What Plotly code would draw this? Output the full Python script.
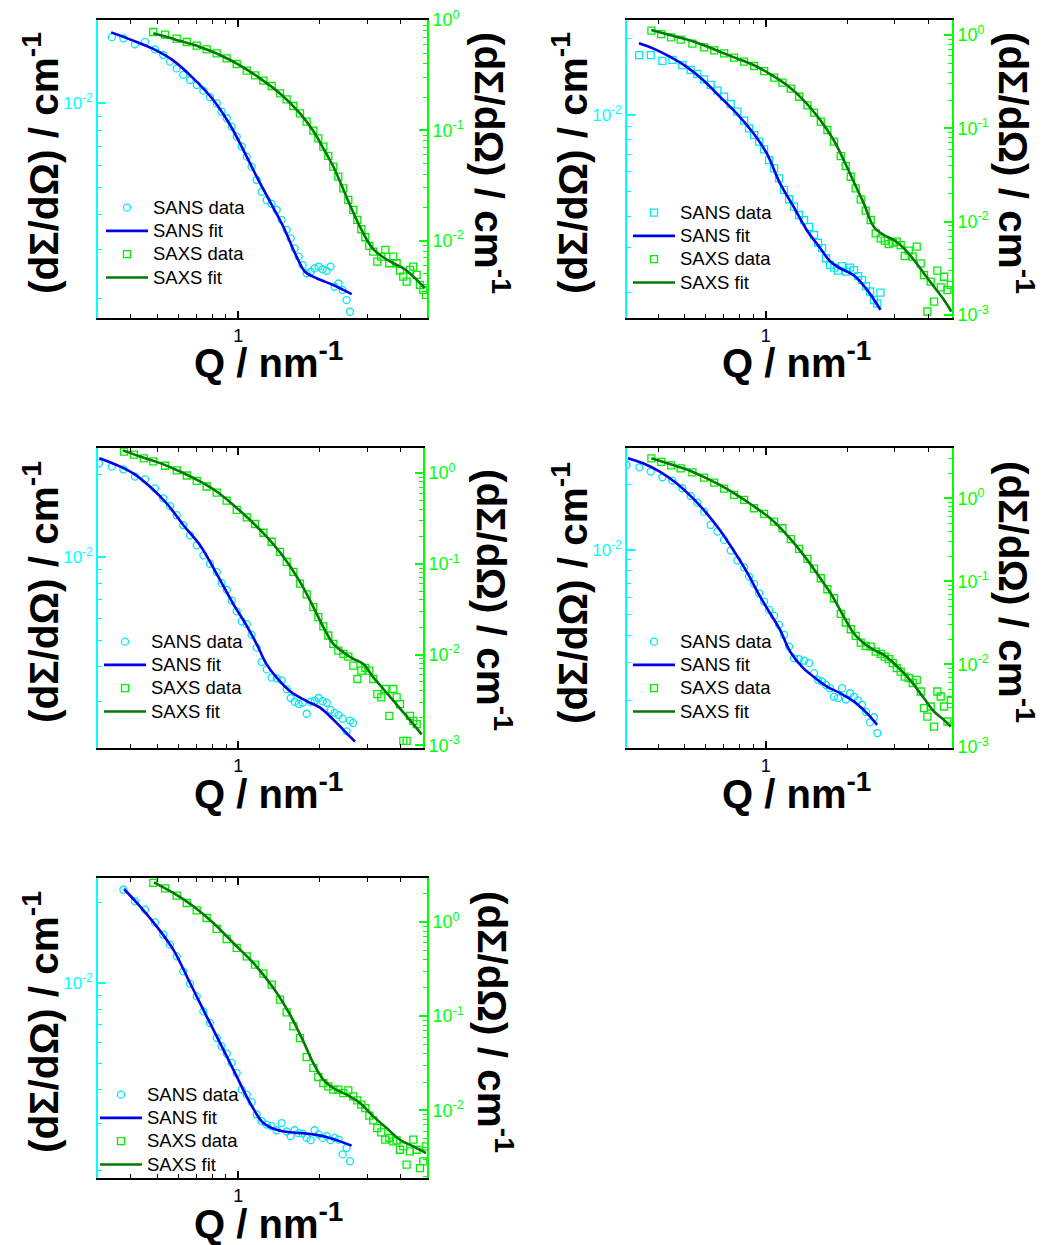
import plotly.graph_objects as go

W, H = 1048, 1245

# ---------------- data ----------------
SANS_Q = [0.305, 0.340, 0.375, 0.414, 0.451, 0.491, 0.527, 0.558, 0.591, 0.625,
          0.662, 0.701, 0.742, 0.785, 0.832, 0.867, 0.906, 0.945, 0.986, 1.029,
          1.074, 1.120, 1.169, 1.220, 1.273, 1.328, 1.387, 1.447, 1.510, 1.563,
          1.617, 1.673, 1.730, 1.791, 1.853, 1.917, 1.983, 2.052, 2.124, 2.197,
          2.273, 2.352, 2.434, 2.518, 2.592, 2.660]

SAXS_Q = [0.377, 0.410, 0.446, 0.484, 0.535, 0.591, 0.644, 0.701, 0.763, 0.831,
          0.905, 0.986, 1.074, 1.153, 1.238, 1.329, 1.427, 1.510, 1.599, 1.692,
          1.791, 1.896, 1.978, 2.065, 2.154, 2.248, 2.346, 2.448, 2.555, 2.667,
          2.759, 2.855, 2.954, 3.057, 3.162, 3.272, 3.385, 3.503, 3.625, 3.751,
          3.858, 3.970, 4.084, 4.202, 4.323, 4.448, 4.576, 4.709, 4.844, 4.956]

# Panel 1
P1_SANS_I = [1.726e-2, 1.71e-2, 1.627e-2, 1.66e-2, 1.561e-2, 1.49e-2, 1.41e-2, 1.334e-2, 1.264e-2, 1.212e-2,
             1.163e-2, 1.110e-2, 1.051e-2, 1.000e-2, 9.33e-3, 8.84e-3, 8.25e-3, 7.60e-3, 7.00e-3, 6.44e-3,
             5.93e-3, 5.31e-3, 4.82e-3, 4.50e-3, 4.36e-3, 4.15e-3, 3.82e-3, 3.52e-3, 3.28e-3, 3.02e-3,
             2.82e-3, 2.63e-3, 2.46e-3, 2.49e-3, 2.56e-3, 2.60e-3, 2.54e-3, 2.51e-3, 2.60e-3, 2.20e-3,
             2.26e-3, 2.14e-3, 1.97e-3, 1.79e-3]
P1_SANS_FIT_Q = [0.338, 0.408, 0.484, 0.574, 0.681, 0.808, 0.932, 1.044, 1.169, 1.310, 1.468, 1.644, 1.766, 1.950, 2.249, 2.630]
P1_SANS_FIT_I = [1.796e-2, 1.678e-2, 1.566e-2, 1.422e-2, 1.229e-2, 1.028e-2, 8.36e-3, 6.80e-3, 5.46e-3, 4.44e-3,
                 3.61e-3, 2.82e-3, 2.49e-3, 2.36e-3, 2.23e-3, 2.07e-3]
P1_SAXS_I = [0.778, 0.736, 0.677, 0.632, 0.585, 0.542, 0.499, 0.449, 0.399, 0.347,
             0.315, 0.282, 0.252, 0.216, 0.191, 0.166, 0.1426, 0.1198, 0.0993, 0.0846,
             0.0711, 0.0585, 0.0469, 0.0380, 0.0298, 0.0234, 0.01897, 0.01539, 0.01267, 0.01072,
             8.95e-3, 7.95e-3, 6.45e-3, 7.16e-3, 8.23e-3, 6.23e-3, 7.16e-3, 6.23e-3, 5.35e-3, 4.72e-3,
             4.25e-3, 5.42e-3, 5.81e-3, 4.88e-3, 3.96e-3, 3.57e-3, 3.22e-3]
P1_SAXS_FIT_Q = [0.484, 0.591, 0.721, 0.855, 1.014, 1.203, 1.427, 1.692, 1.896, 2.065,
                 2.248, 2.448, 2.667, 2.904, 3.162, 3.444, 3.751, 4.084, 4.448, 4.909]
P1_SAXS_FIT_I = [0.757, 0.659, 0.569, 0.482, 0.388, 0.296, 0.216, 0.1426, 0.0986, 0.0687,
                 0.0469, 0.0292, 0.01794, 0.01166, 8.35e-3, 7.06e-3, 6.23e-3, 5.61e-3, 4.72e-3, 3.70e-3]

# Panel 2
P2_SANS_I = [1.722e-2, 1.722e-2, 1.632e-2, 1.647e-2, 1.573e-2, 1.504e-2, 1.450e-2, 1.381e-2, 1.313e-2, 1.247e-2,
             1.181e-2, 1.105e-2, 1.031e-2, 9.50e-3, 8.86e-3, 8.34e-3, 7.85e-3, 7.32e-3, 6.65e-3, 6.17e-3,
             5.63e-3, 5.07e-3, 4.66e-3, 4.36e-3, 4.04e-3, 3.86e-3, 3.63e-3, 3.37e-3, 3.14e-3, 2.99e-3,
             2.73e-3, 2.57e-3, 2.51e-3, 2.44e-3, 2.54e-3, 2.42e-3, 2.51e-3, 2.45e-3, 2.32e-3, 2.24e-3,
             2.12e-3, 2.02e-3, 1.87e-3, 1.81e-3, 2.00e-3]
P2_SANS_FIT_Q = [0.339, 0.382, 0.441, 0.508, 0.586, 0.676, 0.780, 0.900, 1.009, 1.130,
                 1.267, 1.420, 1.592, 1.734, 1.889, 2.118, 2.374, 2.661]
P2_SANS_FIT_I = [1.915e-2, 1.83e-2, 1.697e-2, 1.55e-2, 1.373e-2, 1.181e-2, 1.015e-2, 8.47e-3, 7.06e-3, 5.38e-3,
                 4.36e-3, 3.52e-3, 2.99e-3, 2.65e-3, 2.49e-3, 2.34e-3, 2.05e-3, 1.71e-3]
P2_SAXS_I = [1.113, 1.025, 0.944, 0.891, 0.808, 0.738, 0.685, 0.636, 0.572, 0.518,
             0.466, 0.411, 0.349, 0.309, 0.266, 0.218, 0.1764, 0.1472, 0.1179, 0.0960,
             0.0720, 0.0505, 0.0395, 0.0303, 0.0228, 0.01735, 0.01312, 0.01042, 7.50e-3, 6.63e-3,
             6.26e-3, 5.76e-3, 5.96e-3, 6.11e-3, 5.62e-3, 4.29e-3, 4.89e-3, 4.22e-3, 5.40e-3, 3.58e-3,
             2.68e-3, 1.09e-3, 2.28e-3, 1.39e-3, 2.99e-3, 1.98e-3, 2.57e-3, 1.85e-3, 2.10e-3]
P2_SAXS_FIT_Q = [0.377, 0.441, 0.508, 0.586, 0.676, 0.780, 0.900, 1.038, 1.197, 1.380, 1.592, 1.784,
                 1.944, 2.118, 2.307, 2.513, 2.737, 2.983, 3.250, 3.540, 3.856, 4.201, 4.576, 4.872]
P2_SAXS_FIT_I = [1.131, 1.0, 0.899, 0.781, 0.663, 0.562, 0.477, 0.382, 0.291, 0.201, 0.1228, 0.0750,
                 0.0458, 0.0268, 0.01572, 8.84e-3, 7.20e-3, 6.36e-3, 5.18e-3, 3.88e-3, 2.79e-3, 2.01e-3, 1.45e-3, 1.09e-3]

# Panel 3
P3_SANS_I = [2.19e-2, 2.13e-2, 2.08e-2, 1.96e-2, 1.915e-2, 1.776e-2, 1.633e-2, 1.531e-2, 1.419e-2, 1.305e-2,
             1.200e-2, 1.103e-2, 1.014e-2, 9.46e-3, 8.82e-3, 8.04e-3, 7.60e-3, 6.95e-3, 6.35e-3, 5.84e-3,
             5.71e-3, 5.22e-3, 4.69e-3, 4.16e-3, 3.91e-3, 3.65e-3, 3.63e-3, 3.57e-3, 3.31e-3, 3.08e-3,
             2.98e-3, 2.93e-3, 2.96e-3, 2.70e-3, 2.98e-3, 3.01e-3, 3.08e-3, 3.00e-3, 2.96e-3, 2.79e-3,
             2.72e-3, 2.67e-3, 2.59e-3, 2.33e-3, 2.55e-3, 2.50e-3]
P3_SANS_FIT_Q = [0.3055, 0.354, 0.408, 0.471, 0.543, 0.626, 0.721, 0.831, 0.958, 1.074,
                 1.169, 1.273, 1.387, 1.554, 1.791, 2.007, 2.248, 2.448, 2.705]
P3_SANS_FIT_I = [2.286e-2, 2.16e-2, 2.014e-2, 1.80e-2, 1.565e-2, 1.305e-2, 1.103e-2, 8.69e-3, 6.75e-3, 5.63e-3,
                 4.83e-3, 4.08e-3, 3.65e-3, 3.26e-3, 3.00e-3, 2.84e-3, 2.57e-3, 2.36e-3, 2.14e-3]
P3_SAXS_I = [1.722, 1.596, 1.454, 1.346, 1.206, 1.070, 0.942, 0.822, 0.712, 0.611,
             0.498, 0.393, 0.326, 0.275, 0.2203, 0.1752, 0.1358, 0.1052, 0.0815, 0.0606,
             0.0461, 0.0334, 0.0259, 0.0204, 0.01623, 0.01312, 0.01107, 0.01017, 9.50e-3, 7.55e-3,
             5.38e-3, 6.65e-3, 7.12e-3, 6.65e-3, 5.38e-3, 3.67e-3, 3.37e-3, 4.17e-3, 2.11e-3, 4.17e-3,
             3.37e-3, 2.84e-3, 1.12e-3, 1.12e-3, 2.11e-3, 1.86e-3, 1.71e-3]
P3_SAXS_FIT_Q = [0.373, 0.432, 0.513, 0.608, 0.721, 0.831, 0.958, 1.105, 1.273, 1.468, 1.692, 1.896,
                 2.065, 2.248, 2.448, 2.667, 2.904, 3.162, 3.444, 3.751, 4.084, 4.448, 4.775]
P3_SAXS_FIT_I = [1.782, 1.529, 1.290, 1.043, 0.809, 0.627, 0.446, 0.304, 0.199, 0.1195, 0.0632, 0.0334,
                 0.0201, 0.01312, 0.01061, 8.95e-3, 7.88e-3, 5.61e-3, 4.17e-3, 3.10e-3, 2.30e-3, 1.71e-3, 1.32e-3]

# Panel 4
P4_SANS_I = [2.474e-2, 2.413e-2, 2.305e-2, 2.17e-2, 2.094e-2, 1.93e-2, 1.778e-2, 1.656e-2, 1.504e-2, 1.305e-2,
             1.216e-2, 1.113e-2, 9.93e-3, 8.93e-3, 8.31e-3, 7.52e-3, 6.96e-3, 6.30e-3, 5.77e-3, 5.28e-3,
             4.95e-3, 4.50e-3, 4.04e-3, 3.57e-3, 3.15e-3, 3.12e-3, 3.07e-3, 2.99e-3, 2.69e-3, 2.50e-3,
             2.46e-3, 2.37e-3, 2.29e-3, 2.09e-3, 2.06e-3, 2.29e-3, 2.03e-3, 2.17e-3, 2.09e-3, 2.01e-3,
             1.92e-3, 1.78e-3, 1.59e-3, 1.68e-3, 1.42e-3]
P4_SANS_FIT_Q = [0.3087, 0.351, 0.405, 0.467, 0.538, 0.604, 0.676, 0.758, 0.850, 0.953,
                 1.038, 1.130, 1.232, 1.380, 1.504, 1.686, 1.889, 2.118, 2.374, 2.586]
P4_SANS_FIT_I = [2.657e-2, 2.519e-2, 2.305e-2, 2.035e-2, 1.734e-2, 1.478e-2, 1.238e-2, 1.0e-2, 7.94e-3, 6.08e-3,
                 5.09e-3, 4.26e-3, 3.38e-3, 2.83e-3, 2.59e-3, 2.33e-3, 2.17e-3, 1.99e-3, 1.75e-3, 1.55e-3]
P4_SAXS_I = [3.033, 2.741, 2.498, 2.298, 2.057, 1.774, 1.545, 1.307, 1.097, 0.955,
             0.758, 0.647, 0.523, 0.435, 0.321, 0.245, 0.1858, 0.1421, 0.1087, 0.0801,
             0.0624, 0.0404, 0.0318, 0.0264, 0.02195, 0.01824, 0.01663, 0.01632, 0.01421, 0.01332,
             0.01237, 0.01149, 0.01028, 8.95e-3, 8.16e-3, 7.10e-3, 6.78e-3, 5.90e-3, 6.48e-3, 4.69e-3,
             2.95e-3, 2.34e-3, 3.09e-3, 1.77e-3, 4.69e-3, 4.08e-3, 3.09e-3, 2.04e-3, 3.72e-3]
P4_SAXS_FIT_Q = [0.377, 0.441, 0.508, 0.586, 0.676, 0.780, 0.900, 1.038, 1.197, 1.380, 1.592, 1.784,
                 1.944, 2.118, 2.307, 2.513, 2.737, 2.983, 3.250, 3.540, 3.856, 4.201, 4.576, 4.845]
P4_SAXS_FIT_I = [3.033, 2.593, 2.236, 1.824, 1.447, 1.097, 0.808, 0.574, 0.3615, 0.2077, 0.1087, 0.0624,
                 0.0375, 0.02363, 0.0179, 0.01489, 0.01296, 0.01028, 7.79e-3, 5.64e-3, 3.89e-3, 2.69e-3, 2.13e-3, 1.77e-3]

# Panel 5
P5_SANS_I = [2.225e-2, 2.014e-2, 1.875e-2, 1.681e-2, 1.513e-2, 1.389e-2, 1.257e-2, 1.105e-2, 9.94e-3, 8.92e-3,
             7.84e-3, 7.10e-3, 6.24e-3, 5.81e-3, 5.46e-3, 5.04e-3, 4.62e-3, 4.01e-3, 3.84e-3, 3.60e-3,
             3.24e-3, 3.06e-3, 2.97e-3, 2.93e-3, 2.83e-3, 3.01e-3, 2.80e-3, 2.69e-3, 2.83e-3, 2.76e-3,
             2.75e-3, 2.65e-3, 2.60e-3, 2.83e-3, 2.73e-3, 2.65e-3, 2.69e-3, 2.60e-3, 2.65e-3, 2.61e-3,
             2.30e-3, 2.43e-3, 2.17e-3]
P5_SANS_FIT_Q = [0.377, 0.432, 0.498, 0.574, 0.662, 0.763, 0.880, 0.986, 1.105, 1.238,
                 1.387, 1.554, 1.791, 2.065, 2.313, 2.629]
P5_SANS_FIT_I = [2.239e-2, 1.93e-2, 1.625e-2, 1.331e-2, 1.0e-2, 7.51e-3, 5.65e-3, 4.49e-3, 3.58e-3, 3.01e-3,
                 2.84e-3, 2.78e-3, 2.75e-3, 2.69e-3, 2.60e-3, 2.48e-3]
P5_SAXS_I = [2.596, 2.278, 1.904, 1.591, 1.330, 1.103, 0.843, 0.660, 0.530, 0.432,
             0.352, 0.283, 0.216, 0.1497, 0.1098, 0.0780, 0.0586, 0.0368, 0.0282, 0.0226,
             0.01951, 0.01798, 0.01658, 0.01658, 0.01528, 0.01631, 0.01408, 0.01277, 0.01149, 0.01059,
             8.78e-3, 7.83e-3, 6.49e-3, 5.84e-3, 4.88e-3, 5.09e-3, 4.69e-3, 4.80e-3, 3.82e-3, 4.15e-3,
             2.65e-3, 3.67e-3, 4.88e-3, 3.82e-3, 2.44e-3, 2.87e-3, 4.15e-3]
P5_SAXS_FIT_Q = [0.487, 0.574, 0.681, 0.808, 0.958, 1.137, 1.349, 1.554, 1.741, 1.896,
                 2.065, 2.248, 2.518, 2.820, 3.162, 3.544, 3.970, 4.448, 4.956]
P5_SAXS_FIT_I = [2.638, 2.032, 1.467, 0.976, 0.598, 0.367, 0.199, 0.1037, 0.0540, 0.0318,
                 0.0212, 0.01727, 0.01467, 0.01197, 8.64e-3, 6.49e-3, 4.88e-3, 4.15e-3, 3.52e-3]

LEGEND_NAMES = ["SANS data", "SANS fit", "SAXS data", "SAXS fit"]
Y_TITLE = "<b>(dΣ/dΩ) / cm<sup>-1</sup></b>"
X_TITLE = "<b>Q / nm<sup>-1</sup></b>"

panels = [
    dict(sq=SANS_Q[1:45], si=P1_SANS_I, sfq=P1_SANS_FIT_Q, sfi=P1_SANS_FIT_I,
         xq=SAXS_Q[3:50], xi=P1_SAXS_I, xfq=P1_SAXS_FIT_Q, xfi=P1_SAXS_FIT_I, sym="circle-open"),
    dict(sq=SANS_Q[1:46], si=P2_SANS_I, sfq=P2_SANS_FIT_Q, sfi=P2_SANS_FIT_I,
         xq=SAXS_Q[0:49], xi=P2_SAXS_I, xfq=P2_SAXS_FIT_Q, xfi=P2_SAXS_FIT_I, sym="square-open"),
    dict(sq=SANS_Q[0:46], si=P3_SANS_I, sfq=P3_SANS_FIT_Q, sfi=P3_SANS_FIT_I,
         xq=SAXS_Q[0:47], xi=P3_SAXS_I, xfq=P3_SAXS_FIT_Q, xfi=P3_SAXS_FIT_I, sym="circle-open"),
    dict(sq=SANS_Q[0:45], si=P4_SANS_I, sfq=P4_SANS_FIT_Q, sfi=P4_SANS_FIT_I,
         xq=SAXS_Q[0:49], xi=P4_SAXS_I, xfq=P4_SAXS_FIT_Q, xfi=P4_SAXS_FIT_I, sym="circle-open"),
    dict(sq=SANS_Q[2:45], si=P5_SANS_I, sfq=P5_SANS_FIT_Q, sfi=P5_SANS_FIT_I,
         xq=SAXS_Q[3:50], xi=P5_SAXS_I, xfq=P5_SAXS_FIT_Q, xfi=P5_SAXS_FIT_I, sym="circle-open"),
]

# ---------------- layout geometry (pixels) ----------------
geom = [
    dict(x0=98, x1=427, y0=20, y1=318, xr=(-0.520, 0.699), yl=(-2.7695, -1.7014), yr=(-2.702, 0.0),
         lt=(41, 163), rt=(492, 163), xt=(268, 360), leg=(101, 191)),
    dict(x0=627, x1=952, y0=20, y1=318, xr=(-0.514, 0.690), yl=(-2.799, -1.626), yr=(-3.032, 0.161),
         lt=(570, 163), rt=(1016, 163), xt=(796, 360), leg=(628, 196)),
    dict(x0=98, x1=423, y0=448, y1=748, xr=(-0.520, 0.684), yl=(-2.693, -1.604), yr=(-3.030, 0.277),
         lt=(41, 592), rt=(494, 600), xt=(268, 791), leg=(99, 625)),
    dict(x0=627, x1=952, y0=448, y1=748, xr=(-0.514, 0.690), yl=(-2.917, -1.528), yr=(-3.010, 0.606),
         lt=(570, 593), rt=(1016, 592), xt=(796, 791), leg=(628, 625)),
    dict(x0=98, x1=427, y0=878, y1=1178, xr=(-0.520, 0.699), yl=(-2.726, -1.609), yr=(-2.718, 0.467),
         lt=(41, 1022), rt=(495, 1022), xt=(268, 1221), leg=(95, 1078)),
]

CYAN = "#00E8F0"
CYAN_AX = "#00FFFF"
BLUE = "#0000F0"
LIME = "#00EE00"
LIME_AX = "#00FF00"
DKGREEN = "#007A00"
FONT = "Liberation Sans, Arial, sans-serif"

x_minor = [0.3, 0.4, 0.5, 0.6, 0.7, 0.8, 0.9, 2, 3, 4, 5]
yl_minor = [m * 1e-3 for m in range(1, 10)] + [m * 1e-2 for m in range(2, 10)]
yr_major = [1e-3, 1e-2, 1e-1, 1.0]
yr_text = ["10<sup>-3</sup>", "10<sup>-2</sup>", "10<sup>-1</sup>", "10<sup>0</sup>"]
yr_minor = [m * 10.0 ** e for e in range(-4, 1) for m in range(2, 10)]


def leg_label(s):
    return f'<span style="font-size:18.5px">{s}</span>'


fig = go.Figure()
layout = dict(width=W, height=H, autosize=False,
              margin=dict(l=0, r=0, t=0, b=0, pad=0, autoexpand=False),
              paper_bgcolor="white", plot_bgcolor="rgba(0,0,0,0)",
              font=dict(family=FONT, color="black"), annotations=[])

for k, (p, g) in enumerate(zip(panels, geom), start=1):
    xa = "x" if k == 1 else f"x{k}"
    yl_id = 2 * k - 1
    yr_id = 2 * k
    yl = "y" if yl_id == 1 else f"y{yl_id}"
    yr = f"y{yr_id}"
    leg = "legend" if k == 1 else f"legend{k}"

    fig.add_trace(go.Scatter(x=p["sq"], y=p["si"], mode="markers", name=leg_label(LEGEND_NAMES[0]),
                             marker=dict(symbol=p["sym"], size=7, color=CYAN, line=dict(width=1.3, color=CYAN)),
                             xaxis=xa, yaxis=yl, legend=leg))
    fig.add_trace(go.Scatter(x=p["sfq"], y=p["sfi"], mode="lines", name=leg_label(LEGEND_NAMES[1]),
                             line=dict(color=BLUE, width=2.6, shape="spline"),
                             xaxis=xa, yaxis=yl, legend=leg))
    fig.add_trace(go.Scatter(x=p["xq"], y=p["xi"], mode="markers", name=leg_label(LEGEND_NAMES[2]),
                             marker=dict(symbol="square-open", size=7, color=LIME, line=dict(width=1.3, color=LIME)),
                             xaxis=xa, yaxis=yr, legend=leg))
    fig.add_trace(go.Scatter(x=p["xfq"], y=p["xfi"], mode="lines", name=leg_label(LEGEND_NAMES[3]),
                             line=dict(color=DKGREEN, width=2.6, shape="spline"),
                             xaxis=xa, yaxis=yr, legend=leg))

    xdom = [g["x0"] / W, g["x1"] / W]
    ydom = [1 - g["y1"] / H, 1 - g["y0"] / H]

    layout["xaxis" if k == 1 else f"xaxis{k}"] = dict(
        domain=xdom, anchor=yl, type="log", range=list(g["xr"]), automargin=False,
        showline=True, linecolor="black", linewidth=1.8, mirror="ticks",
        ticks="inside", ticklen=7, tickwidth=1.5, tickcolor="black",
        tickmode="array", tickvals=[1], ticktext=["1"],
        tickfont=dict(size=18, color="black", family=FONT),
        minor=dict(tickmode="array", tickvals=x_minor, ticks="inside", ticklen=4,
                   tickwidth=1.3, tickcolor="black", showgrid=False),
        showgrid=False, zeroline=False)
    layout["yaxis" if yl_id == 1 else f"yaxis{yl_id}"] = dict(
        domain=ydom, anchor=xa, type="log", range=list(g["yl"]), side="left", automargin=False,
        showline=True, linecolor=CYAN_AX, linewidth=1.8, mirror=False,
        ticks="inside", ticklen=8, tickwidth=1.5, tickcolor=CYAN_AX,
        tickmode="array", tickvals=[1e-2], ticktext=["10<sup>-2</sup>"],
        tickfont=dict(size=17, color=CYAN_AX, family=FONT),
        minor=dict(tickmode="array", tickvals=yl_minor, ticks="inside", ticklen=4,
                   tickwidth=1.3, tickcolor=CYAN_AX, showgrid=False),
        showgrid=False, zeroline=False)
    layout[f"yaxis{yr_id}"] = dict(
        domain=ydom, anchor=xa, overlaying=yl, type="log", range=list(g["yr"]), side="right",
        automargin=False,
        showline=True, linecolor=LIME_AX, linewidth=1.8, mirror=False,
        ticks="inside", ticklen=8, tickwidth=1.5, tickcolor=LIME_AX,
        tickmode="array", tickvals=yr_major, ticktext=yr_text,
        tickfont=dict(size=18, color=LIME_AX, family=FONT),
        minor=dict(tickmode="array", tickvals=yr_minor, ticks="inside", ticklen=4,
                   tickwidth=1.2, tickcolor=LIME_AX, showgrid=False),
        showgrid=False, zeroline=False)

    layout[leg] = dict(x=g["leg"][0] / W, y=1 - g["leg"][1] / H, xanchor="left", yanchor="top",
                       bgcolor="rgba(0,0,0,0)", borderwidth=0, itemwidth=42,
                       font=dict(size=15.6, color="black", family=FONT), traceorder="normal",
                       tracegroupgap=0)

    layout["annotations"] += [
        dict(x=g["lt"][0] / W, y=1 - g["lt"][1] / H, xref="paper", yref="paper", text=Y_TITLE,
             textangle=-90, showarrow=False, xanchor="center", yanchor="middle",
             font=dict(size=40.5, color="black", family=FONT)),
        dict(x=g["rt"][0] / W, y=1 - g["rt"][1] / H, xref="paper", yref="paper", text=Y_TITLE,
             textangle=90, showarrow=False, xanchor="center", yanchor="middle",
             font=dict(size=40.5, color="black", family=FONT)),
        dict(x=g["xt"][0] / W, y=1 - g["xt"][1] / H, xref="paper", yref="paper", text=X_TITLE,
             showarrow=False, xanchor="center", yanchor="middle",
             font=dict(size=40, color="black", family=FONT)),
    ]

fig.update_layout(**layout)
fig.write_html("out.html", include_plotlyjs=True, full_html=True,
               config={"displayModeBar": False},
               post_script="document.body.style.margin='0';")
